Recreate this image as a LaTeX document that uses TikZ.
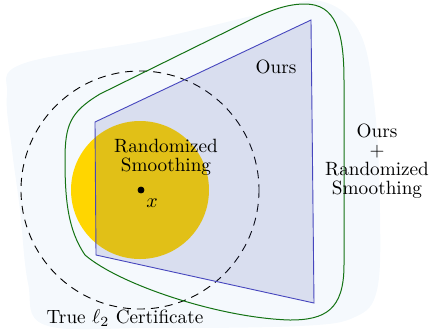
\documentclass[tikz,border=0pt]{standalone}
\usepackage{amssymb}
\usepackage{tikz}
\definecolor{blobblue}{RGB}{245,249,253}
\definecolor{rsyellow}{RGB}{255,214,0}
\definecolor{oursblue}{RGB}{60,70,160}
\definecolor{edgeblue}{RGB}{70,70,190}
\definecolor{combgreen}{RGB}{20,115,20}
\tikzset{mypoint/.style={draw,fill,circle,minimum size=3pt,inner sep=0pt},
mylabel/.style={align=center,inner sep=1pt}}

\begin{document}
\begin{tikzpicture}[x=0.5pt,y=-0.5pt,font=\fontsize{9.6}{9.6}\selectfont]
\useasboundingbox (0,0) rectangle (435,329);
% combined region in the background
\fill[blobblue] plot[smooth cycle,tension=0.6] coordinates {(7,95) (22,64) (150,40) (260,14) (320,1) (360,33) (375,110) (380,213) (377,290) (355,317) (300,326) (150,328) (45,325) (28,283) (20,210) (12,150)};
\draw[dash pattern=on 4pt off 3pt,line width=0.45pt] (140,190) circle (119);
\draw[combgreen,line width=0.5pt] (305,4) .. controls (335,4) and (344,30) .. (344,80) -- (344,265)
  .. controls (344,310) and (325,320) .. (290,320) .. controls (220,318) and (120,285) .. (85,255)
  .. controls (68,230) and (65,200) .. (65,160) .. controls (65,125) and (70,112) .. (100,94)
  -- (250,20) .. controls (275,8) and (290,4) .. (305,4) -- cycle;
\fill[rsyellow] (140,190) circle (69);
\filldraw[draw=edgeblue,line width=0.45pt,fill=oursblue,fill opacity=0.15] (95,122) -- (311,20) -- (314,303) -- (96,255) -- cycle;
\node[mypoint] (xpt) at (141,190) {};
\node[mylabel] (xlab) at (152,203) {$x$};
\node[mylabel] (ours) at (276,67) {Ours};
\node[mylabel] (rs) at (166,157) {Randomized\\Smoothing};
\node[mylabel] (both) at (377,161) {Ours\\+\\Randomized\\Smoothing};
\node[mylabel] (true) at (125,318) {True $\ell_2$ Certificate};
\end{tikzpicture}
\end{document}
